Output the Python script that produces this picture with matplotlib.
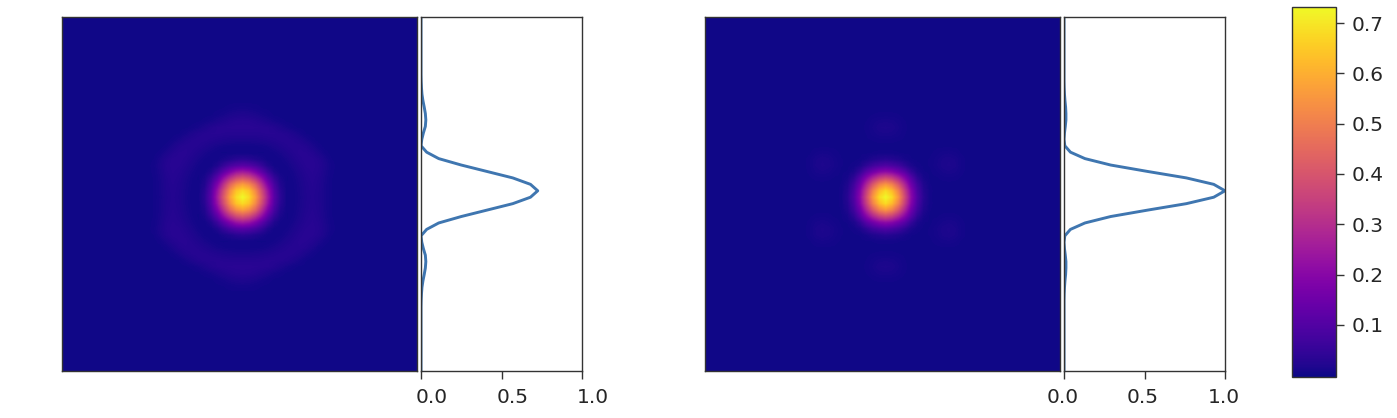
import numpy as np
import matplotlib
matplotlib.use("Agg")
import matplotlib.pyplot as plt
from matplotlib.transforms import ScaledTranslation

W, H = 1397, 418

# centre-out quarter of each map, rows = cells from the peak vertically, cols = horizontally
quarter_left = [
    [.73, .68, .57, .41, .25, .11, .035, .003, .004, .01, .019, .024, .019, .009, .003, .001, 0],
    [.68, .64, .53, .38, .23, .10, .03, .003, .004, .011, .02, .025, .02, .01, .003, .001, 0],
    [.57, .53, .44, .31, .18, .08, .02, .003, .005, .012, .021, .026, .021, .01, .003, .001, 0],
    [.41, .38, .31, .22, .12, .05, .012, .002, .006, .014, .023, .028, .022, .011, .003, .001, 0],
    [.25, .23, .18, .12, .06, .018, .004, .003, .009, .018, .026, .029, .025, .013, .004, .001, 0],
    [.11, .10, .08, .05, .018, .004, .003, .006, .014, .023, .029, .031, .026, .015, .005, .001, 0],
    [.035, .03, .02, .012, .004, .003, .005, .011, .02, .027, .031, .03, .024, .012, .003, .001, 0],
    [.003, .003, .003, .002, .003, .006, .011, .018, .025, .03, .029, .024, .014, .005, .001, 0, 0],
    [.004, .004, .005, .006, .009, .014, .02, .025, .028, .028, .024, .014, .005, .001, 0, 0, 0],
    [.015, .015, .016, .018, .021, .024, .027, .028, .026, .021, .012, .005, .001, 0, 0, 0, 0],
    [.027, .027, .027, .028, .029, .029, .027, .024, .017, .009, .003, .001, 0, 0, 0, 0, 0],
    [.033, .033, .032, .031, .029, .024, .016, .009, .004, .002, .001, 0, 0, 0, 0, 0, 0],
    [.03, .029, .026, .021, .015, .009, .005, .002, .001, 0, 0, 0, 0, 0, 0, 0, 0],
    [.019, .017, .014, .009, .005, .002, .001, 0, 0, 0, 0, 0, 0, 0, 0, 0, 0],
    [.008, .007, .005, .003, .002, .001, 0, 0, 0, 0, 0, 0, 0, 0, 0, 0, 0],
    [.002, .002, .002, .001, .001, 0, 0, 0, 0, 0, 0, 0, 0, 0, 0, 0, 0],
    [.001, .001, 0, 0, 0, 0, 0, 0, 0, 0, 0, 0, 0, 0, 0, 0, 0],
]
quarter_right = [
    [.73, .68, .555, .38, .21, .095, .03, .004, 0, 0, 0, 0, 0, 0, 0, 0, 0],
    [.68, .625, .51, .35, .195, .085, .025, .004, .001, 0, 0, 0, 0, 0, 0, 0, 0],
    [.555, .51, .41, .285, .155, .068, .018, .003, .001, .001, .001, .001, 0, 0, 0, 0, 0],
    [.38, .35, .285, .20, .11, .04, .009, .002, .002, .004, .005, .004, .002, 0, 0, 0, 0],
    [.21, .195, .155, .11, .05, .014, .003, .002, .005, .009, .011, .009, .004, .001, 0, 0, 0],
    [.095, .085, .068, .04, .014, .004, .002, .003, .008, .013, .015, .012, .005, .001, 0, 0, 0],
    [.03, .025, .018, .009, .003, .002, .002, .003, .007, .012, .014, .011, .005, .001, 0, 0, 0],
    [.004, .004, .003, .002, .002, .001, .001, .002, .004, .007, .008, .006, .002, 0, 0, 0, 0],
    [.001, .001, .001, .001, .001, .001, .001, .001, .002, .002, .002, .002, .001, 0, 0, 0, 0],
    [.004, .004, .003, .002, .001, 0, 0, 0, 0, 0, 0, 0, 0, 0, 0, 0, 0],
    [.011, .01, .007, .003, .001, 0, 0, 0, 0, 0, 0, 0, 0, 0, 0, 0, 0],
    [.015, .014, .009, .004, .001, 0, 0, 0, 0, 0, 0, 0, 0, 0, 0, 0, 0],
    [.011, .01, .007, .003, .001, 0, 0, 0, 0, 0, 0, 0, 0, 0, 0, 0, 0],
    [.004, .004, .003, .001, 0, 0, 0, 0, 0, 0, 0, 0, 0, 0, 0, 0, 0],
    [.001, .001, .001, 0, 0, 0, 0, 0, 0, 0, 0, 0, 0, 0, 0, 0, 0],
    [0, 0, 0, 0, 0, 0, 0, 0, 0, 0, 0, 0, 0, 0, 0, 0, 0],
    [0, 0, 0, 0, 0, 0, 0, 0, 0, 0, 0, 0, 0, 0, 0, 0, 0],
]

# centre slice, bottom row first, 56 samples
slice_left = [
    0, 0, 0, 0, 0, 0, 0, 0, 0, 0,
    0, .001, .003, .006, .012, .02, .027, .03, .027, .015,
    .005, 0, .035, .11, .25, .41, .57, .68, .725, .68,
    .57, .41, .25, .11, .035, 0, .005, .015, .027, .03,
    .027, .02, .012, .006, .003, .001, 0, 0, 0, 0,
    0, 0, 0, 0, 0, 0,
]
slice_right = [
    0, 0, 0, 0, 0, 0, 0, 0, 0, 0,
    0, 0, .001, .003, .006, .01, .012, .012, .008, .003,
    0, .005, .04, .13, .29, .52, .76, .93, 1.0, .93,
    .76, .52, .29, .13, .04, .005, 0, .003, .008, .012,
    .012, .01, .006, .003, .001, 0, 0, 0, 0, 0,
    0, 0, 0, 0, 0, 0,
]
xticks = [0.0, 0.5, 1.0]
cbar_ticks = [0.1, 0.2, 0.3, 0.4, 0.5, 0.6, 0.7]
vmin, vmax = -0.003, 0.732


def full_map(quarter):
    q = np.array(quarter)
    top = np.hstack([q[::-1, ::-1], q[::-1, 1:]])
    bottom = np.hstack([q[:, ::-1], q[:, 1:]])
    grid = np.zeros((56, 56))
    grid[12:45, 12:45] = np.vstack([top, bottom[1:]])
    return grid


def box(x0, x1, y0, y1):
    return [x0 / W, 1 - y1 / H, (x1 - x0) / W, (y1 - y0) / H]


def style(ax):
    for s in ax.spines.values():
        s.set_color("#333333")
        s.set_linewidth(1.0)


fig = plt.figure(figsize=(W / 100, H / 100), dpi=100)

panels = [
    (quarter_left, slice_left, 62, 421, 11),
    (quarter_right, slice_right, 705, 1064, -1.5),
]
for quarter, slice_vals, x_img, x_side, label_shift in panels:
    ax = fig.add_axes(box(x_img, x_img + 355, 17, 371))
    im = ax.imshow(full_map(quarter), cmap="plasma", vmin=vmin, vmax=vmax,
                   aspect="auto", interpolation="bilinear")
    ax.set_xticks([])
    ax.set_yticks([])
    style(ax)

    side = fig.add_axes(box(x_side, x_side + 161, 17, 371))
    side.plot(slice_vals, np.arange(56), color="#3f76b0", lw=2.1)
    side.set_xlim(0, 1)
    side.set_ylim(0, 55)
    side.set_yticks([])
    side.set_xticks(xticks)
    side.tick_params(axis="x", labelsize=14.5, length=5.5, width=1.0,
                     color="#333333", labelcolor="#262626", pad=7)
    shift = ScaledTranslation(label_shift / 100, 0, fig.dpi_scale_trans)
    for lab in side.get_xticklabels():
        lab.set_transform(lab.get_transform() + shift)
    style(side)

cax = fig.add_axes(box(1292, 1336, 7, 376.7))
cb = fig.colorbar(im, cax=cax, ticks=cbar_ticks)
cb.ax.tick_params(labelsize=14.5, length=5.5, width=1.0, color="#333333",
                  labelcolor="#262626", pad=6)
style(cax)
cb.outline.set_edgecolor("#333333")
cb.outline.set_linewidth(1.0)

fig.savefig("out.png", dpi=100)
